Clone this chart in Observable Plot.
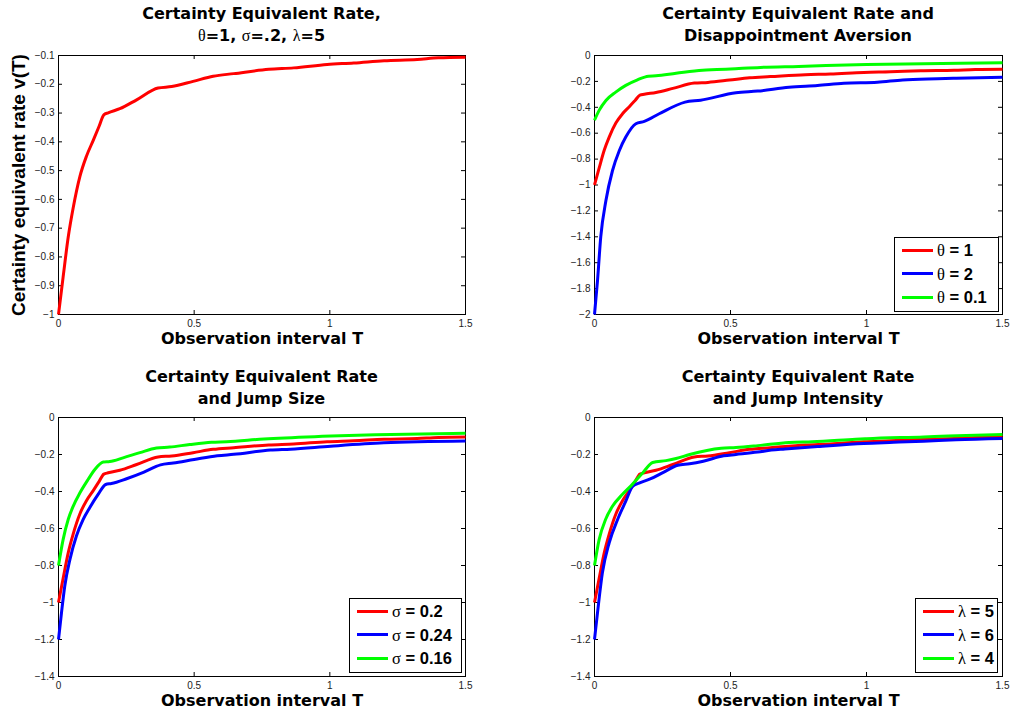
<!DOCTYPE html>
<html><head><meta charset="utf-8">
<script src="https://cdn.jsdelivr.net/npm/d3@7"></script>
<script src="https://cdn.jsdelivr.net/npm/@observablehq/plot@0.6"></script>
<style>
body{margin:0;background:#fff;}
#chart{position:relative;width:1012px;height:714px;overflow:hidden;background:#fff;}
.panel{position:absolute;width:506px;height:357px;}
.panel svg{position:absolute;left:0;top:0;}
.title{position:absolute;text-align:center;font-family:"DejaVu Sans",sans-serif;font-weight:bold;font-size:16px;line-height:22px;color:#000;white-space:nowrap;}
.sym{font-family:"Liberation Serif",serif;font-weight:normal;}
.legend{position:absolute;box-sizing:border-box;border:1.5px solid #000;background:#fff;}
.row{position:absolute;left:0;right:0;height:24px;}
.row .ln{position:absolute;height:3px;top:10.5px;}
.row .tx{position:absolute;top:0;line-height:24px;font-family:"Liberation Sans",Arial,sans-serif;font-weight:bold;font-size:16.5px;color:#000;white-space:nowrap;}
</style>
</head><body>
<div id="chart"></div>
<script>
// ---- tick values ----
const xTicks = [0, 0.5, 1, 1.5];
const yTicksTopLeft = [-1, -0.9, -0.8, -0.7, -0.6, -0.5, -0.4, -0.3, -0.2, -0.1];
const yTicksTopRight = [-2, -1.8, -1.6, -1.4, -1.2, -1, -0.8, -0.6, -0.4, -0.2, 0];
const yTicksBottom = [-1.4, -1.2, -1, -0.8, -0.6, -0.4, -0.2, 0];

// ---- series: base case theta=1, sigma=0.2, lambda=5 ----
const tBase = [0, 0.017, 0.036, 0.054, 0.079, 0.103, 0.128, 0.15, 0.167, 0.183, 0.226, 0.288, 0.367, 0.417, 0.496, 0.57, 0.646, 0.775, 0.867, 0.99, 1.088, 1.2, 1.322, 1.4, 1.5];
const vBase = [-1.0, -0.87, -0.73, -0.63, -0.52, -0.45, -0.395, -0.345, -0.306, -0.299, -0.285, -0.254, -0.213, -0.208, -0.19, -0.172, -0.163, -0.148, -0.143, -0.131, -0.126, -0.118, -0.114, -0.108, -0.106];

// theta = 2
const tTheta2 = [0, 0.011, 0.023, 0.042, 0.066, 0.091, 0.115, 0.152, 0.183, 0.238, 0.333, 0.39, 0.52, 0.6, 0.715, 0.82, 0.917, 1.04, 1.133, 1.261, 1.33, 1.5];
const vTheta2 = [-2.0, -1.74, -1.40, -1.12, -0.89, -0.735, -0.63, -0.527, -0.509, -0.45, -0.36, -0.345, -0.288, -0.275, -0.245, -0.231, -0.214, -0.206, -0.189, -0.18, -0.176, -0.167];

// theta = 0.1
const tTheta01 = [0, 0.017, 0.042, 0.078, 0.115, 0.158, 0.198, 0.226, 0.3, 0.397, 0.45, 0.5, 0.61, 0.75, 0.8, 1.0, 1.21, 1.5];
const vTheta01 = [-0.5, -0.424, -0.347, -0.283, -0.231, -0.188, -0.16, -0.157, -0.137, -0.113, -0.109, -0.104, -0.092, -0.084, -0.081, -0.07, -0.064, -0.056];

// sigma = 0.24
const tSigma24 = [0, 0.011, 0.023, 0.042, 0.066, 0.091, 0.115, 0.146, 0.174, 0.195, 0.251, 0.315, 0.376, 0.423, 0.5, 0.585, 0.646, 0.781, 0.855, 1.003, 1.199, 1.5];
const vSigma24 = [-1.2, -1.056, -0.912, -0.768, -0.641, -0.551, -0.488, -0.416, -0.362, -0.357, -0.331, -0.295, -0.256, -0.246, -0.227, -0.207, -0.199, -0.176, -0.171, -0.155, -0.137, -0.127];

// sigma = 0.16
const tSigma16 = [0, 0.017, 0.036, 0.054, 0.079, 0.109, 0.134, 0.165, 0.189, 0.238, 0.3, 0.361, 0.41, 0.484, 0.564, 0.619, 0.757, 0.972, 1.168, 1.5];
const vSigma16 = [-0.8, -0.66, -0.55, -0.48, -0.407, -0.335, -0.281, -0.241, -0.238, -0.218, -0.19, -0.165, -0.16, -0.146, -0.134, -0.131, -0.116, -0.102, -0.093, -0.085];

// lambda = 6
const tLambda6 = [0, 0.011, 0.029, 0.054, 0.085, 0.115, 0.14, 0.164, 0.207, 0.255, 0.306, 0.35, 0.4, 0.475, 0.52, 0.6, 0.65, 0.7, 0.82, 0.99, 1.1, 1.21, 1.33, 1.5];
const vLambda6 = [-1.2, -1.056, -0.84, -0.677, -0.551, -0.452, -0.372, -0.355, -0.331, -0.295, -0.258, -0.25, -0.236, -0.207, -0.2, -0.187, -0.176, -0.17, -0.157, -0.14, -0.134, -0.128, -0.12, -0.113];

// lambda = 4
const tLambda4 = [0, 0.017, 0.041, 0.066, 0.103, 0.14, 0.177, 0.214, 0.263, 0.3, 0.35, 0.466, 0.52, 0.6, 0.715, 0.8, 0.96, 1.0, 1.21, 1.3, 1.5];
const vLambda4 = [-0.8, -0.66, -0.55, -0.48, -0.415, -0.36, -0.3, -0.243, -0.233, -0.222, -0.2, -0.166, -0.162, -0.152, -0.135, -0.131, -0.118, -0.115, -0.105, -0.1, -0.092];

// ---- legend labels & colours ----
const seriesColors = ["#ff0000", "#0000ff", "#00ff00"];
const legendTheta = [["θ", " = 1"], ["θ", " = 2"], ["θ", " = 0.1"]];
const legendSigma = [["σ", " = 0.2"], ["σ", " = 0.24"], ["σ", " = 0.16"]];
const legendLambda = [["λ", " = 5"], ["λ", " = 6"], ["λ", " = 4"]];

function rows(t, v) { return t.map((T, i) => ({T, v: v[i]})); }
function fmt(d) { if (Math.abs(d) < 1e-9) return "0"; return String(Math.round(d * 100) / 100).replace("-", "\u2212"); }

const W = 506, H = 357;
const panels = [
  {left: 0, top: 0, m: [55, 41, 43, 58], y: [-1, -0.1], yTicks: yTicksTopLeft,
   series: [rows(tBase, vBase)], ylabel: "Certainty equivalent rate v(T)",
   title: 'Certainty Equivalent Rate,<br><span class="sym">θ</span>=1, <span class="sym">σ</span>=.2, <span class="sym">λ</span>=5',
   titleTop: 3, legend: null},
  {left: 506, top: 0, m: [55, 10, 43, 88], y: [-2, 0], yTicks: yTicksTopRight,
   series: [rows(tBase, vBase), rows(tTheta2, vTheta2), rows(tTheta01, vTheta01)],
   title: "Certainty Equivalent Rate and<br>Disappointment Aversion", titleTop: 3,
   legend: {labels: legendTheta, box: [388, 237, 105, 75], line: [7, 31], text: 42}},
  {left: 0, top: 357, m: [60, 41, 38, 58], y: [-1.4, 0], yTicks: yTicksBottom,
   series: [rows(tBase, vBase), rows(tSigma24, vSigma24), rows(tSigma16, vSigma16)],
   title: "Certainty Equivalent Rate<br>and Jump Size", titleTop: 9,
   legend: {labels: legendSigma, box: [349, 241, 113, 75], line: [7, 31], text: 42}},
  {left: 506, top: 357, m: [60, 10, 38, 88], y: [-1.4, 0], yTicks: yTicksBottom,
   series: [rows(tBase, vBase), rows(tLambda6, vLambda6), rows(tLambda4, vLambda4)],
   title: "Certainty Equivalent Rate<br>and Jump Intensity", titleTop: 9,
   legend: {labels: legendLambda, box: [409, 241, 83, 75], line: [7, 31], text: 42}}
];

const chart = document.getElementById("chart");
for (const p of panels) {
  const [mt, mr, mb, ml] = p.m;
  const pw = W - ml - mr, ph = H - mt - mb;
  const marks = [
    Plot.frame({stroke: "#000", strokeWidth: 1}),
    Plot.tickX(xTicks, {x: d => d, insetTop: ph - 4, stroke: "#000"}),
    Plot.tickX(xTicks, {x: d => d, insetBottom: ph - 4, stroke: "#000"}),
    Plot.tickY(p.yTicks, {y: d => d, insetRight: pw - 4, stroke: "#000"}),
    Plot.tickY(p.yTicks, {y: d => d, insetLeft: pw - 4, stroke: "#000"}),
    Plot.axisX(xTicks, {anchor: "bottom", tickSize: 0, tickPadding: 5, tickFormat: fmt, label: null, fill: "#222"}),
    Plot.axisY(p.yTicks, {anchor: "left", tickSize: 0, tickPadding: 4, tickFormat: fmt, label: null, fill: "#222"}),
  ];
  p.series.forEach((s, i) => marks.push(Plot.line(s, {x: "T", y: "v", stroke: seriesColors[i], strokeWidth: 3, curve: "monotone-x", strokeLinejoin: "round", strokeLinecap: "butt"})));
  marks.push(Plot.text(["Observation interval T"], {text: d => d, frameAnchor: "bottom", lineAnchor: "middle", dy: 24, fontSize: 16, fontWeight: "bold", fontFamily: "DejaVu Sans", fill: "#000"}));
  if (p.ylabel) marks.push(Plot.text([p.ylabel], {text: d => d, frameAnchor: "left", textAnchor: "middle", lineAnchor: "middle", dx: -40, rotate: -90, fontSize: 19, fontWeight: "bold", fontFamily: "Liberation Sans", fill: "#000"}));
  const svg = Plot.plot({
    width: W, height: H,
    marginTop: mt, marginRight: mr, marginBottom: mb, marginLeft: ml,
    x: {domain: [0, 1.5]},
    y: {domain: p.y},
    style: {fontFamily: "Liberation Sans, Arial, sans-serif", fontSize: "10px", background: "transparent", overflow: "visible"},
    marks
  });
  const div = document.createElement("div");
  div.className = "panel";
  div.style.left = p.left + "px";
  div.style.top = p.top + "px";
  div.appendChild(svg);
  const t = document.createElement("div");
  t.className = "title";
  t.style.left = ml + "px";
  t.style.width = pw + "px";
  t.style.top = p.titleTop + "px";
  t.innerHTML = p.title;
  div.appendChild(t);
  if (p.legend) {
    const L = p.legend;
    const lg = document.createElement("div");
    lg.className = "legend";
    lg.style.left = L.box[0] + "px"; lg.style.top = L.box[1] + "px";
    lg.style.width = L.box[2] + "px"; lg.style.height = L.box[3] + "px";
    L.labels.forEach((lab, i) => {
      const r = document.createElement("div");
      r.className = "row";
      r.style.top = (i * 23.5) + "px";
      const ln = document.createElement("div");
      ln.className = "ln";
      ln.style.left = L.line[0] + "px"; ln.style.width = L.line[1] + "px";
      ln.style.background = seriesColors[i];
      const tx = document.createElement("div");
      tx.className = "tx";
      tx.style.left = L.text + "px";
      tx.innerHTML = '<span class="sym">' + lab[0] + '</span>' + lab[1];
      r.appendChild(ln); r.appendChild(tx);
      lg.appendChild(r);
    });
    div.appendChild(lg);
  }
  chart.appendChild(div);
}
</script>
</body></html>
